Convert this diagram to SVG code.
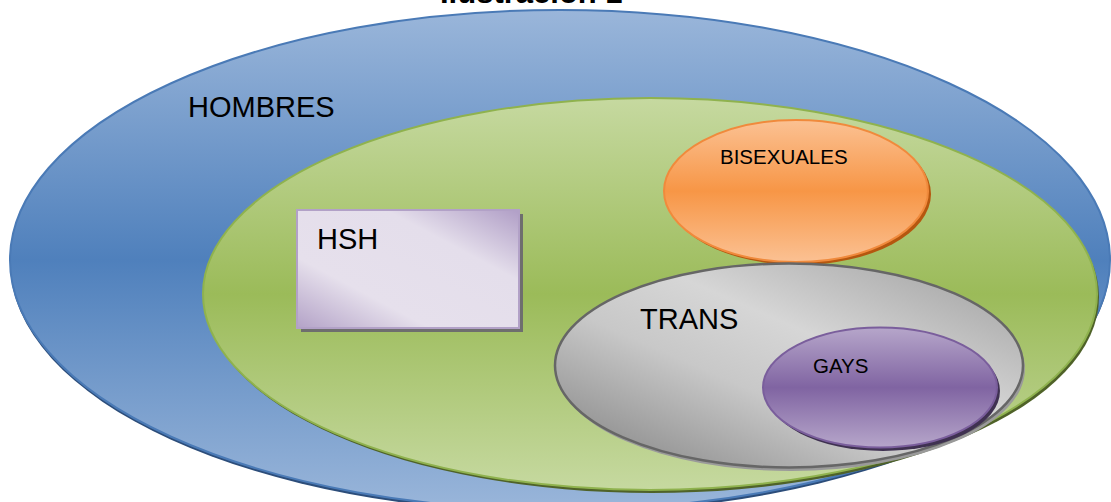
<svg xmlns="http://www.w3.org/2000/svg" width="1111" height="502" viewBox="0 0 1111 502">
<defs>
<linearGradient id="gBlue" x1="0" y1="0" x2="0" y2="1">
<stop offset="0" stop-color="#9ab6da"/><stop offset="0.5" stop-color="#4f80bc"/><stop offset="1" stop-color="#9ab6da"/>
</linearGradient>
<linearGradient id="gGreen" x1="0" y1="0" x2="0" y2="1">
<stop offset="0" stop-color="#c6d9a0"/><stop offset="0.5" stop-color="#9bbb59"/><stop offset="1" stop-color="#c6d9a0"/>
</linearGradient>
<linearGradient id="gOrange" x1="0" y1="0" x2="0" y2="1">
<stop offset="0" stop-color="#fbc193"/><stop offset="0.5" stop-color="#f79646"/><stop offset="1" stop-color="#fbc193"/>
</linearGradient>
<linearGradient id="gPurple" x1="0" y1="0" x2="0" y2="1">
<stop offset="0" stop-color="#b6a6ca"/><stop offset="0.5" stop-color="#8064a2"/><stop offset="1" stop-color="#b6a6ca"/>
</linearGradient>
<linearGradient id="gGrey" x1="1" y1="0" x2="0" y2="1">
<stop offset="0" stop-color="#9c9c9c"/><stop offset="0.4" stop-color="#d6d6d6"/><stop offset="0.6" stop-color="#c8c8c8"/><stop offset="1" stop-color="#7e7e7e"/>
</linearGradient>
<linearGradient id="gLav" x1="1" y1="0" x2="0" y2="1">
<stop offset="0" stop-color="#b09ec6"/><stop offset="0.3" stop-color="#e4deeb"/><stop offset="0.7" stop-color="#e6e0ec"/><stop offset="1" stop-color="#b3a2c7"/>
</linearGradient>
</defs>
<style>
text{font-family:"Liberation Sans",Arial,sans-serif;fill:#000}
.big{font-size:29px}
.small{font-size:20.5px}
</style>
<rect width="1111" height="502" fill="#ffffff"/>
<text x="440" y="3" style="font-size:31px;font-weight:bold">Ilustración 1</text>
<g id="hombres">
<ellipse cx="560" cy="263" rx="550" ry="250" fill="#2c4d7a"/>
<ellipse cx="560" cy="260" rx="550" ry="250" fill="url(#gBlue)" stroke="#4a7ab6" stroke-width="2"/>
<text x="188" y="117" class="big">HOMBRES</text>
</g>
<g id="heterosexuales">
<ellipse cx="652" cy="297" rx="447" ry="196" fill="#4f6228"/>
<ellipse cx="650" cy="294" rx="447" ry="196" fill="url(#gGreen)" stroke="#8fb24e" stroke-width="2"/>
</g>
<g id="hsh">
<rect x="301" y="214" width="222" height="118" fill="#6e6e6e"/>
<rect x="297" y="210" width="222" height="118" fill="url(#gLav)" stroke="#b2a1c7" stroke-width="2"/>
<text x="317" y="249" class="big">HSH</text>
</g>
<g id="bisexuales">
<ellipse cx="799" cy="194" rx="132" ry="71" fill="#b5570f"/>
<ellipse cx="796" cy="191" rx="132" ry="71" fill="url(#gOrange)" stroke="#f08a3c" stroke-width="2"/>
<text x="720" y="164" class="small">BISEXUALES</text>
</g>
<g id="trans">
<ellipse cx="791" cy="369" rx="234" ry="102" fill="#9a9a9a"/>
<ellipse cx="789" cy="365.5" rx="234" ry="102" fill="url(#gGrey)" stroke="#666666" stroke-width="2.5"/>
<text x="640" y="329" class="big">TRANS</text>
</g>
<g id="gays">
<ellipse cx="883" cy="391" rx="117" ry="60" fill="#3f3151"/>
<ellipse cx="880" cy="387.5" rx="117" ry="60" fill="url(#gPurple)" stroke="#7a5e9c" stroke-width="2"/>
<text x="813" y="373" class="small">GAYS</text>
</g>
<g id="connectors"/>
</svg>
